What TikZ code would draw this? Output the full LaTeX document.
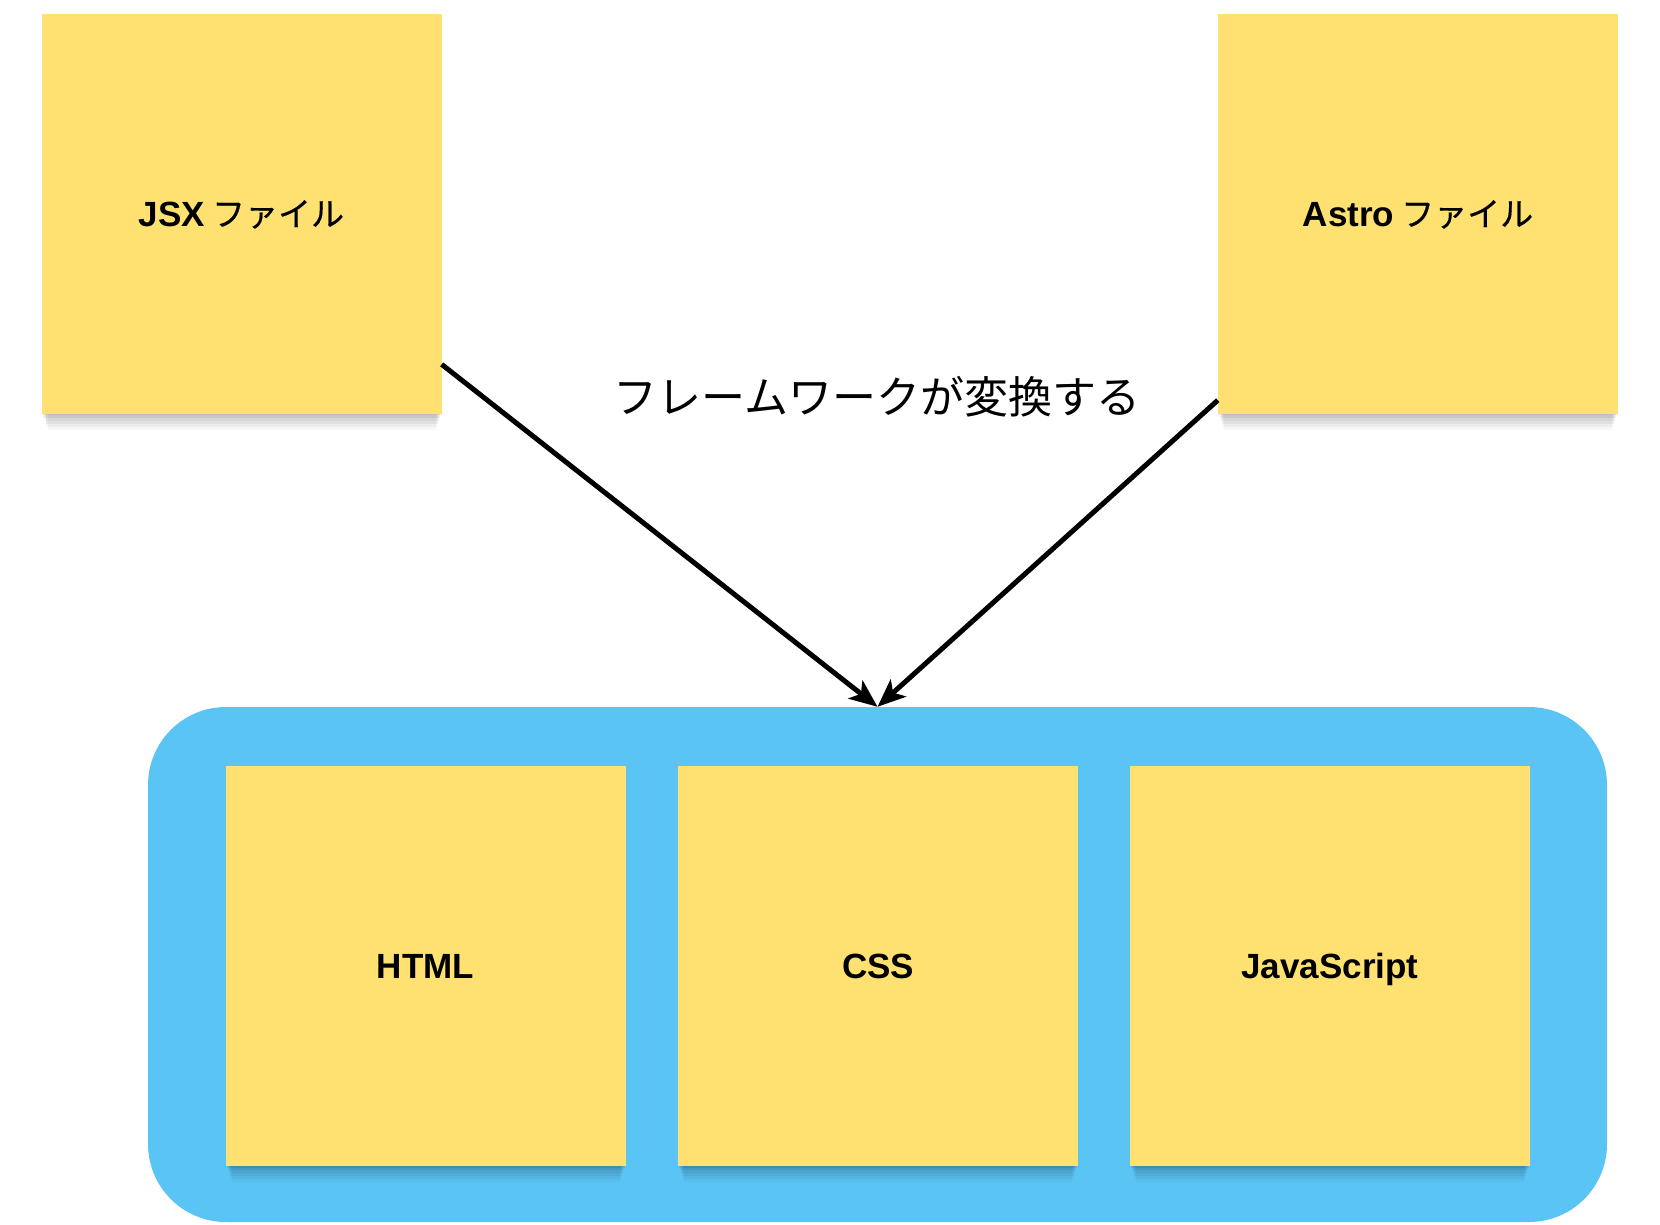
\documentclass[tikz,border=0pt]{standalone}
\usepackage{fontspec}
\setmainfont{Liberation Sans}
\newfontfamily\jp{Noto Sans CJK JP}
\newfontfamily\jpmed[FakeBold=0.5]{Noto Sans CJK JP}
\usetikzlibrary{arrows.meta,shadows}
\definecolor{noteyellow}{HTML}{FEE170}
\definecolor{groupblue}{HTML}{5AC4F5}
\begin{document}
\begin{tikzpicture}[x=1pt,y=-1pt,
  note/.style={rectangle, fill=noteyellow, minimum width=400pt, minimum height=400pt,
    inner sep=0pt, text=black, font=\fontsize{35}{42}\selectfont\bfseries,
    text height=25pt, text depth=0pt,
    general shadow={fill=black, opacity=0.06, shadow yshift=-3pt, shadow scale=0.995},
    general shadow={fill=black, opacity=0.06, shadow yshift=-7pt, shadow scale=0.99},
    general shadow={fill=black, opacity=0.05, shadow yshift=-11pt, shadow scale=0.985},
    general shadow={fill=black, opacity=0.05, shadow yshift=-15pt, shadow scale=0.98},
    general shadow={fill=black, opacity=0.04, shadow yshift=-19pt, shadow scale=0.975},
    general shadow={fill=black, opacity=0.03, shadow yshift=-23pt, shadow scale=0.97}},
  groupbox/.style={rectangle, fill=groupblue, rounded corners=78pt, inner sep=0pt,
    minimum width=1459pt, minimum height=515pt},
  caption/.style={font=\jp\fontsize{44}{52}\selectfont, text=black, inner sep=0pt},
  link/.style={line width=5pt, draw=black, -{Stealth[length=28pt,width=23pt,inset=7pt]}}]
\useasboundingbox (0,0) rectangle (1660,1224);
\fill[white] (0,0) rectangle (1660,1224);

\node[groupbox] (grp) at (877.5,964.5) {};

\node[note] (jsx) at (241.5,213.5) {JSX\hspace{7pt}{\jpmed\mdseries\fontsize{33}{40}\selectfont ファイル}};
\node[note] (astro) at (1418,213.5) {Astro\hspace{7pt}{\jpmed\mdseries\fontsize{33}{40}\selectfont ファイル}};

\node[note] (html) at (425.5,965.5) {HTML};
\node[note] (css) at (878,965.5) {CSS};
\node[note] (js) at (1330,965.5) {JavaScript};

\node[caption] (lbl) at (877,397) {フレームワークが変換する};

\draw[link] (jsx.-37.7) -- (grp.north);
\draw[link] (astro.-137.5) -- (grp.north);
\end{tikzpicture}
\end{document}
